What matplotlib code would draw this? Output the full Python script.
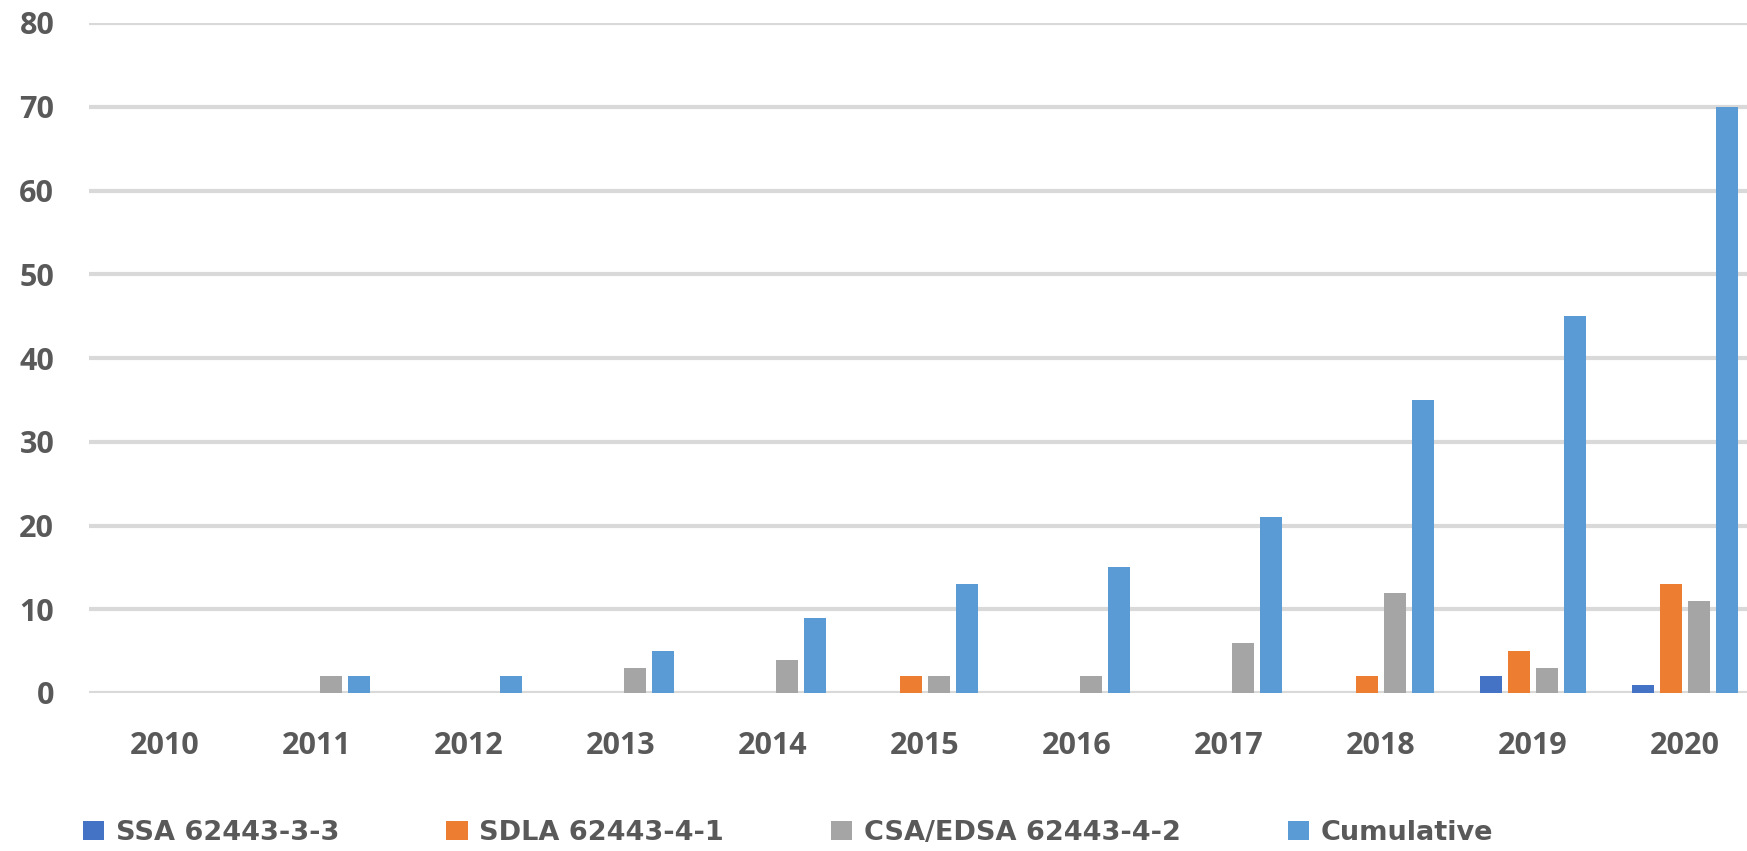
import matplotlib
matplotlib.use("Agg")
import matplotlib.pyplot as plt
import numpy as np

years = ["2010", "2011", "2012", "2013", "2014", "2015", "2016", "2017", "2018", "2019", "2020"]
ssa = [0, 0, 0, 0, 0, 0, 0, 0, 0, 2, 1]
sdla = [0, 0, 0, 0, 0, 2, 0, 0, 2, 5, 13]
csa_edsa = [0, 2, 0, 3, 4, 2, 2, 6, 12, 3, 11]
cumulative = [0, 2, 2, 5, 9, 13, 15, 21, 35, 45, 70]

series = [ssa, sdla, csa_edsa, cumulative]
labels = ["SSA 62443-3-3", "SDLA 62443-4-1", "CSA/EDSA 62443-4-2", "Cumulative"]
colors = ["#4472C4", "#ED7D31", "#A5A5A5", "#5B9BD5"]

txt = "#595959"
fig = plt.figure(figsize=(17.47, 8.51), dpi=100)
ax = fig.add_axes([89 / 1747, 158 / 851, 1672 / 1747, 670 / 851])

x = np.arange(len(years))
step = 0.184
width = 0.145
for i, (vals, lab, col) in enumerate(zip(series, labels, colors)):
    ax.bar(x + (i - 1.5) * step, vals, width, color=col, label=lab, zorder=3)

ax.set_xlim(-0.5, len(years) - 0.5)
ax.set_ylim(0, 80)
ax.set_yticks(range(0, 81, 10))
ax.set_xticks(x)
ax.set_xticklabels(years)
ax.yaxis.grid(True, color="#D9D9D9", linewidth=3, zorder=0)
ax.set_axisbelow(True)
for s in ax.spines.values():
    s.set_visible(False)
ax.tick_params(length=0, colors=txt, labelsize=22)
ax.tick_params(axis="x", pad=27)
ax.tick_params(axis="y", pad=25)
for t in ax.get_xticklabels() + ax.get_yticklabels():
    t.set_family(["Open Sans", "DejaVu Sans"])
    t.set_fontweight("bold")
    t.set_color(txt)

leg = fig.legend(loc="center left", bbox_to_anchor=(83 / 1747, 1 - 833 / 851), ncol=4, frameon=False,
                 borderpad=0, borderaxespad=0, handlelength=0.78, handleheight=0.75,
                 handletextpad=0.44, columnspacing=3.95,
                 prop={"family": "DejaVu Sans", "weight": "bold", "size": 19.5})
for t in leg.get_texts():
    t.set_color(txt)

fig.savefig("out.png", dpi=100)
